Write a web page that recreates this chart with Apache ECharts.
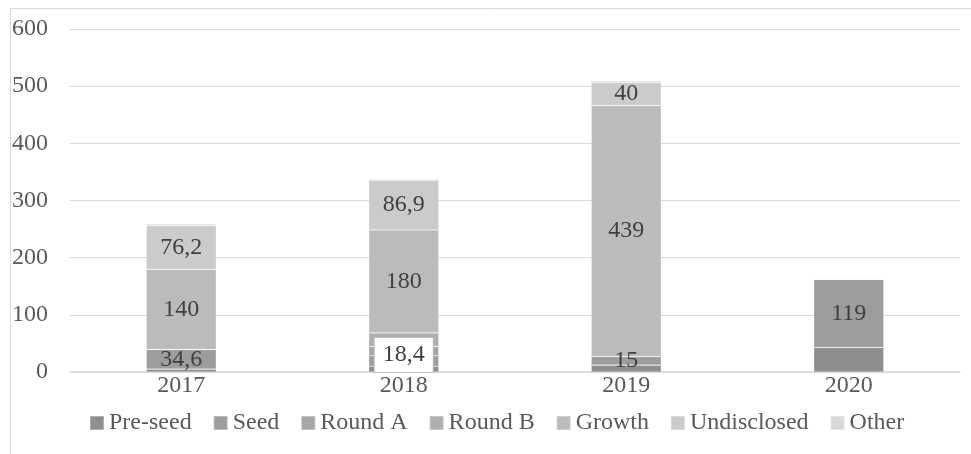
<!DOCTYPE html>
<html>
<head>
<meta charset="utf-8">
<script src="https://cdn.jsdelivr.net/npm/echarts@6/dist/echarts.min.js"></script>
<style>html,body{margin:0;padding:0;background:#fff;}#c{width:971px;height:454px;}</style>
</head>
<body>
<div id="c"></div>
<script>
var categories = ['2017', '2018', '2019', '2020'];
var seriesNames = ['Pre-seed', 'Seed', 'Round A', 'Round B', 'Growth', 'Undisclosed', 'Other'];
var preSeed = [5, 10, 12, 43];
var seed = [34.6, 18.4, 15, 119];
var roundA = [0, 16, 0, 0];
var roundB = [0, 24, 0, 0];
var growth = [140, 180, 439, 0];
var undisclosed = [76.2, 86.9, 40, 0];
var other = [3, 2, 3, 0];
var yTicks = [0, 100, 200, 300, 400, 500, 600];

var values = [preSeed, seed, roundA, roundB, growth, undisclosed, other];
var colors = ['#8e8e8e', '#9d9d9d', '#a6a6a6', '#afafaf', '#bbbbbb', '#cbcbcb', '#d9d9d9'];
var labeled = [false, true, false, false, true, true, false];
var font = 'Liberation Serif';

function fmt(p) {
  if (!p.value) return '';
  return String(p.value).replace('.', ',');
}

var series = seriesNames.map(function (name, i) {
  var data = values[i].map(function (v, j) {
    if (i === 1 && j === 1) {
      return {
        value: v,
        label: {
          backgroundColor: '#ffffff',
          borderColor: '#bfbfbf',
          borderWidth: 1,
          padding: [5, 8, 5, 8],
          offset: [0, -6]
        }
      };
    }
    return v;
  });
  return {
    name: name,
    type: 'bar',
    stack: 'total',
    barWidth: 70,
    itemStyle: { color: colors[i], borderColor: 'rgba(255,255,255,0.3)', borderWidth: 0.6 },
    label: {
      show: labeled[i],
      position: 'inside',
      formatter: fmt,
      fontFamily: font,
      fontSize: 24,
      color: '#404040'
    },
    emphasis: { disabled: true },
    data: data
  };
});

var chart = echarts.init(document.getElementById('c'));
chart.setOption({
  animation: false,
  backgroundColor: '#ffffff',
  graphic: [{
    type: 'rect',
    shape: { x: 10.5, y: 8.5, width: 1200, height: 1200 },
    style: { fill: 'none', stroke: '#d9d9d9', lineWidth: 1 },
    silent: true
  }],
  grid: { left: 70, right: 11, top: 29, bottom: 82, containLabel: false },
  legend: {
    data: seriesNames,
    left: 84,
    top: 406,
    icon: 'rect',
    itemWidth: 14,
    itemHeight: 14,
    itemGap: 21,
    textStyle: { fontFamily: font, fontSize: 24, color: '#595959' },
    selectedMode: false
  },
  xAxis: {
    type: 'category',
    data: categories,
    axisLine: { lineStyle: { color: '#d9d9d9', width: 1.5 } },
    axisTick: { show: false },
    axisLabel: { fontFamily: font, fontSize: 24, color: '#595959', margin: 2 }
  },
  yAxis: {
    type: 'value',
    min: yTicks[0],
    max: yTicks[yTicks.length - 1],
    interval: 100,
    axisLine: { show: false },
    axisTick: { show: false },
    splitLine: { lineStyle: { color: '#d9d9d9', width: 1 } },
    axisLabel: { fontFamily: font, fontSize: 24, color: '#595959', margin: 22 }
  },
  series: series
});
</script>
</body>
</html>
